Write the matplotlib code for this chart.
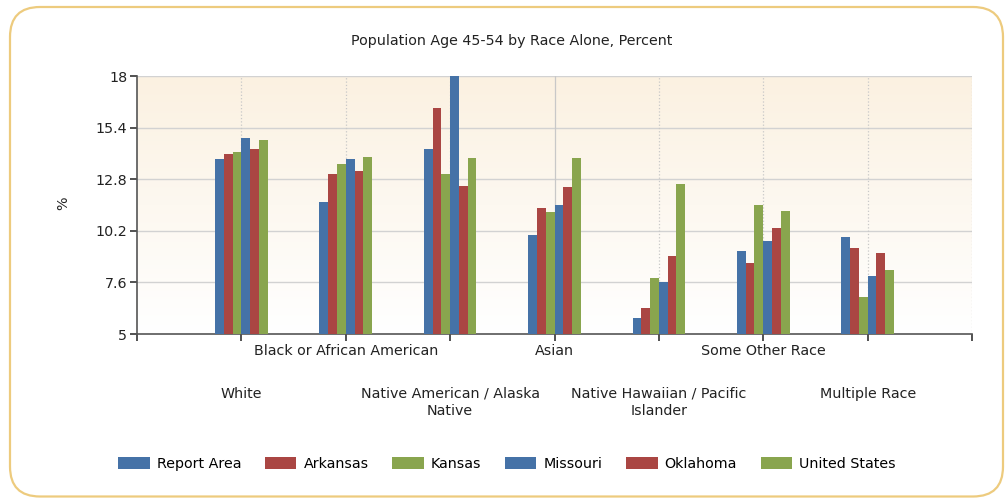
import matplotlib.pyplot as plt
import numpy as np
from matplotlib.patches import FancyBboxPatch, Patch
from matplotlib.transforms import blended_transform_factory

# chart data
categories = ["White", "Black or African American", "Native American / Alaska\nNative", "Asian",
              "Native Hawaiian / Pacific\nIslander", "Some Other Race", "Multiple Race"]
series_names = ["Report Area", "Arkansas", "Kansas", "Missouri", "Oklahoma", "United States"]
report_area = [13.82, 11.66, 14.33, 9.98, 5.79, 9.16, 9.90]
arkansas = [14.05, 13.07, 16.39, 11.37, 6.29, 8.57, 9.31]
kansas = [14.18, 13.59, 13.07, 11.15, 7.83, 11.52, 6.88]
missouri = [14.86, 13.81, 18.0, 11.52, 7.61, 9.68, 7.92]
oklahoma = [14.34, 13.22, 12.48, 12.41, 8.94, 10.33, 9.09]
united_states = [14.77, 13.94, 13.87, 13.87, 12.55, 11.22, 8.20]
y_ticks = [5, 7.6, 10.2, 12.8, 15.4, 18]
title = "Population Age 45-54 by Race Alone, Percent"


def main():
    plt.rcParams['font.family'] = ['DejaVu Sans']
    fs = 10.3
    series = [report_area, arkansas, kansas, missouri, oklahoma, united_states]
    colors = ['#4572A7', '#AA4643', '#89A54E', '#4572A7', '#AA4643', '#89A54E']

    fig = plt.figure(figsize=(10.08, 4.99), dpi=100)

    # rounded golden frame
    frame = FancyBboxPatch((0.10, 0.025), 9.93, 4.895, boxstyle='round,pad=0,rounding_size=0.3',
                           transform=fig.dpi_scale_trans, facecolor='white', edgecolor='#EDCB7E',
                           linewidth=1.6, zorder=-5)
    fig.patches.append(frame)

    ax = fig.add_axes([137 / 1008, 165 / 499, 835 / 1008, 258 / 499])
    ax.set_zorder(2)
    ax.set_facecolor('none')

    # gradient background
    grad = np.linspace(0, 1, 256).reshape(-1, 1)
    top = np.array([251, 241, 225]) / 255.0
    bot = np.array([255, 255, 255]) / 255.0
    img = grad[:, :, None] * top + (1 - grad[:, :, None]) * bot
    ax.imshow(img, extent=[0, 8, 5, 18], origin='lower', aspect='auto', zorder=0)

    x = np.arange(1, len(categories) + 1)
    w = 0.084
    for i, vals in enumerate(series):
        ax.bar(x + (i - 2.5) * w, vals, width=w, color=colors[i], label=series_names[i], zorder=3)

    ax.set_xlim(0, 8)
    ax.set_ylim(5, 18)
    ax.set_yticks(y_ticks)
    ax.set_yticklabels(['5', '7.6', '10.2', '12.8', '15.4', '18'], fontsize=fs)
    ax.set_xticks(np.arange(0, 9))
    ax.set_xticklabels([])
    ax.tick_params(axis='both', direction='out', length=5, width=1.2, color='#333333', pad=2)
    ax.tick_params(axis='y', labelcolor='#222222')

    for yv in y_ticks[1:]:
        ax.axhline(yv, color='#D2D2D2', linewidth=1.0, zorder=1)
    for xv in range(1, 9):
        ls = '-' if xv == 4 else ':'
        ax.axvline(xv, color='#C8C8C8', linewidth=0.9, linestyle=ls, zorder=1)

    ax.spines['top'].set_visible(False)
    ax.spines['right'].set_visible(False)
    ax.spines['left'].set_color('#555555')
    ax.spines['bottom'].set_color('#555555')
    ax.spines['left'].set_linewidth(1.2)
    ax.spines['bottom'].set_linewidth(1.2)

    # staggered category labels
    trans = blended_transform_factory(ax.transData, ax.transAxes)
    for i, name in enumerate(categories):
        ypos = -0.205 if i % 2 == 0 else -0.040
        ax.text(x[i], ypos, name, transform=trans, ha='center', va='top', fontsize=fs,
                color='#222222', linespacing=1.3)

    fig.text(0.508, 1 - 41 / 499, title, ha='center', va='center', fontsize=fs, color='#222222')
    fig.text(63 / 1008, 1 - 203 / 499, '%', rotation=90, ha='center', va='center', fontsize=fs,
             color='#222222')

    handles = [Patch(facecolor=colors[i], label=series_names[i]) for i in range(len(series_names))]
    fig.legend(handles=handles, loc='center', bbox_to_anchor=(0.503, 1 - 464 / 499), ncol=6,
               frameon=False, fontsize=fs, handlelength=2.2, handleheight=0.85,
               columnspacing=1.65, handletextpad=0.5)

    fig.savefig('out.png', dpi=100)


if __name__ == "__main__":
    main()
